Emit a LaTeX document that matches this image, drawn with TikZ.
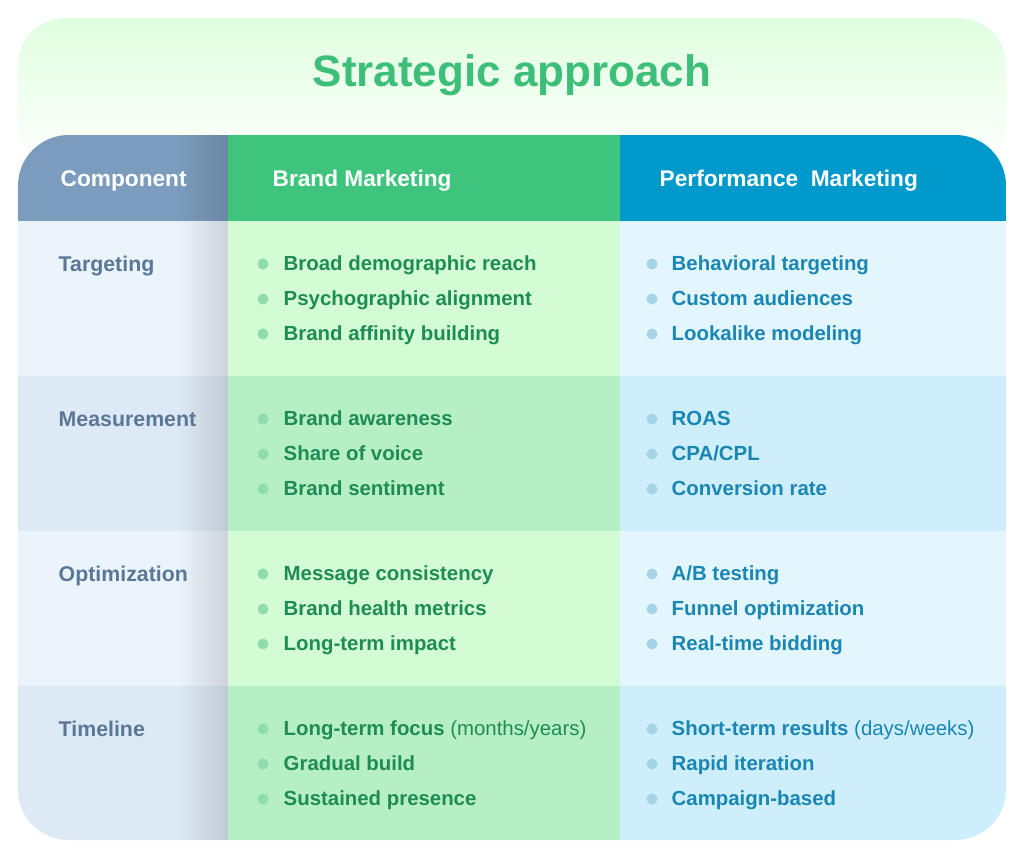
\documentclass[tikz,border=0pt]{standalone}
\usepackage{fontspec}
\setmainfont{Liberation Sans}
\usetikzlibrary{fadings}
\definecolor{titlegreen}{HTML}{3DBF7A}
\definecolor{hcomp}{HTML}{7B9CBD}
\definecolor{hbrand}{HTML}{3EC47C}
\definecolor{hperf}{HTML}{0099CC}
\definecolor{cA}{HTML}{EBF3FB}\definecolor{cB}{HTML}{DDE9F4}
\definecolor{bA}{HTML}{D4FCD4}\definecolor{bB}{HTML}{B6EFC4}
\definecolor{pA}{HTML}{E3F6FE}\definecolor{pB}{HTML}{CDEEFA}
\definecolor{lbl}{HTML}{5A7896}
\definecolor{gtext}{HTML}{1E8C55}\definecolor{gdot}{HTML}{8FDCAE}
\definecolor{btext}{HTML}{1A86B4}\definecolor{bdot}{HTML}{A5D4E8}
\begin{document}
\begin{tikzpicture}[x=0.75pt,y=-0.75pt,
  hdr/.style={anchor=base west,text=white,font=\bfseries\fontsize{17}{19}\selectfont},
  rowlbl/.style={anchor=base west,text=lbl,font=\bfseries\fontsize{16}{18}\selectfont},
  gitem/.style={anchor=base west,text=gtext,font=\bfseries\fontsize{15.3}{17}\selectfont},
  bitem/.style={anchor=base west,text=btext,font=\bfseries\fontsize{15.3}{17}\selectfont}]
\useasboundingbox[fill=white] (0,0) rectangle (1024,858);
% title band
\shade[top color=green!12!white,bottom color=white,rounded corners=35] (18,18) rectangle (1006,170);
\node[text=titlegreen,font=\bfseries\fontsize{33}{38}\selectfont] (title) at (512,75) {Strategic approach};
\begin{scope}
\clip[rounded corners=38] (18,135) rectangle (1006,840);
\fill[hcomp] (18,135) rectangle (228,221);
\fill[hbrand] (228,135) rectangle (620,221);
\fill[hperf] (620,135) rectangle (1006,221);
\foreach \y/\c/\b/\p in {221/cA/bA/pA,376/cB/bB/pB,531/cA/bA/pA,686/cB/bB/pB}{
  \fill[\c] (18,\y) rectangle (228,\y+155);
  \fill[\b] (228,\y) rectangle (620,\y+155);
  \fill[\p] (620,\y) rectangle (1006,\y+155);
}
\fill[black,opacity=0.13,path fading=west] (178,135) rectangle (228,840);
\end{scope}
\node[hdr] (h1) at (56,186) {Component};
\node[hdr] (h2) at (268,186) {Brand Marketing};
\node[hdr] (h3) at (655,186) {Performance\ \ Marketing};
\foreach \r/\lab/\ga/\gb/\gc/\pa/\pb/\pc [count=\i] in {
 0/Targeting/Broad demographic reach/Psychographic alignment/Brand affinity building/Behavioral targeting/Custom audiences/Lookalike modeling,
 155/Measurement/Brand awareness/Share of voice/Brand sentiment/ROAS/CPA\slash CPL/Conversion rate,
 310/Optimization/Message consistency/Brand health metrics/Long-term impact/A\slash B testing/Funnel optimization/Real-time bidding,
 465/Timeline/{Long-term focus \mdseries(months/years)}/Gradual build/Sustained presence/{Short-term results \mdseries(days/weeks)}/Rapid iteration/Campaign-based}{
  \node[rowlbl] (L\i) at (54,271+\r) {\lab};
  \foreach \t/\dy [count=\j] in {\ga/0,\gb/35,\gc/70}{
    \fill[gdot] (263,264+\r+\dy) circle (5.5);
    \node[gitem] (G\i\j) at (279,270+\r+\dy) {\t};}
  \foreach \t/\dy [count=\j] in {\pa/0,\pb/35,\pc/70}{
    \fill[bdot] (652,264+\r+\dy) circle (5.5);
    \node[bitem] (P\i\j) at (667,270+\r+\dy) {\t};}
}
\end{tikzpicture}
\end{document}
